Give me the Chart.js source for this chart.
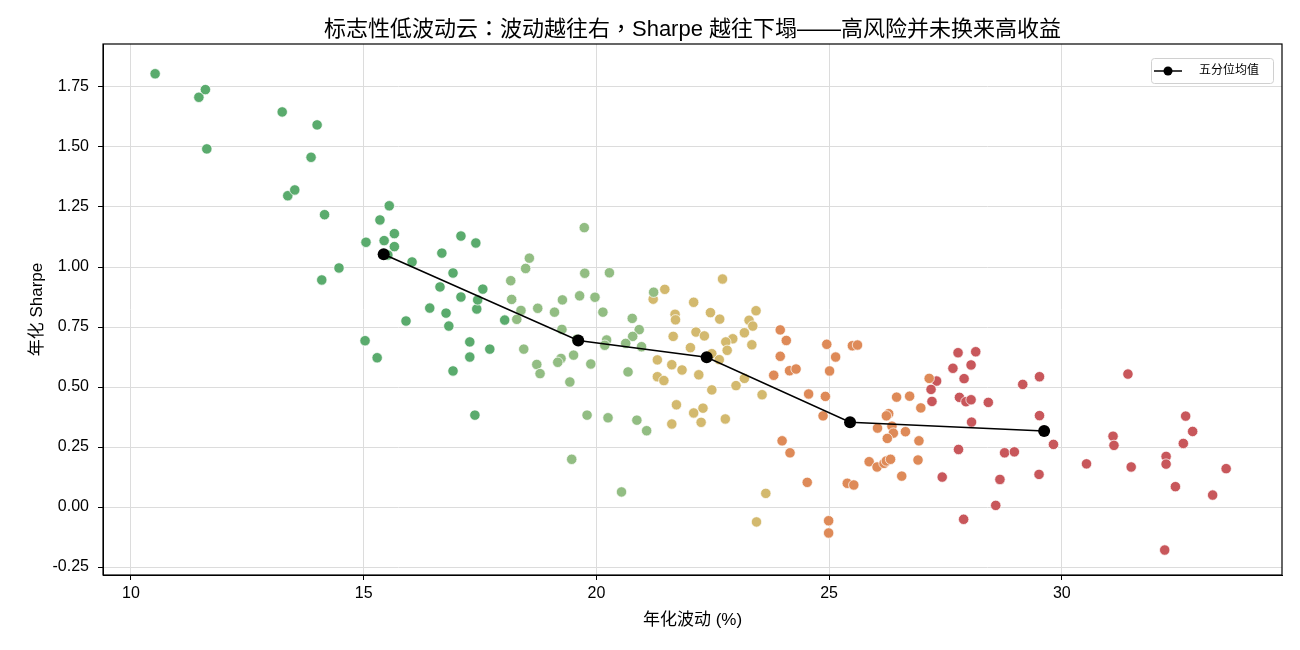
<!DOCTYPE html>
<html>
<head>
<meta charset="utf-8">
<script src="https://cdn.jsdelivr.net/npm/chart.js@4.4.1/dist/chart.umd.min.js"></script>
<style>
  html, body { margin: 0; padding: 0; background: #fff; }
  #wrap { width: 1300px; height: 650px; }
</style>
</head>
<body>
<div id="wrap"><canvas id="c" width="1300" height="650"></canvas></div>
<script>
// 五分位分组：年化波动 (%) 与 年化 Sharpe
const q1Vol = [10.52, 11.46, 11.60, 11.63, 13.25, 14.00, 13.87, 13.37, 13.52, 14.16, 14.10, 14.47, 15.03, 15.29, 15.05, 15.35, 15.44, 15.55, 15.66, 15.66, 15.52, 16.04, 15.91, 16.42, 16.68, 16.64, 16.77, 16.92, 16.83, 16.92, 17.09, 17.09, 17.28, 17.28, 17.41, 17.43, 17.45, 17.56, 17.39, 17.71, 18.03];
const q1Sharpe = [1.805, 1.707, 1.739, 1.492, 1.646, 1.592, 1.457, 1.297, 1.321, 1.218, 0.946, 0.996, 0.693, 0.622, 1.103, 1.196, 1.110, 1.255, 1.139, 1.085, 1.050, 1.021, 0.775, 0.829, 1.058, 0.917, 0.808, 0.975, 0.754, 0.567, 1.129, 0.875, 0.688, 0.625, 1.100, 0.825, 0.863, 0.908, 0.383, 0.658, 0.779];

const q2Vol = [19.74, 18.56, 18.48, 19.75, 20.28, 18.16, 18.18, 19.27, 19.64, 19.97, 18.74, 19.10, 18.38, 18.29, 20.14, 20.77, 20.92, 20.78, 21.23, 19.26, 19.58, 20.22, 20.18, 20.63, 20.97, 18.44, 19.24, 19.17, 19.51, 18.72, 18.79, 19.88, 20.68, 19.43, 19.80, 20.25, 20.87, 21.08, 19.47, 20.54];
const q2Sharpe = [1.164, 1.037, 0.994, 0.974, 0.976, 0.943, 0.865, 0.863, 0.880, 0.874, 0.828, 0.812, 0.819, 0.782, 0.812, 0.786, 0.739, 0.711, 0.895, 0.740, 0.699, 0.696, 0.674, 0.682, 0.668, 0.658, 0.619, 0.603, 0.633, 0.594, 0.556, 0.596, 0.563, 0.521, 0.383, 0.372, 0.362, 0.318, 0.199, 0.063];

const q3Vol = [21.47, 21.22, 21.69, 21.70, 21.65, 21.31, 21.62, 21.84, 21.31, 21.45, 21.72, 21.62, 22.71, 22.09, 22.45, 22.65, 23.43, 23.28, 23.36, 22.14, 22.32, 22.93, 22.78, 23.18, 23.34, 22.02, 22.81, 22.48, 22.64, 22.20, 23.18, 23.00, 22.48, 23.56, 22.29, 22.09, 22.77, 22.25, 23.64, 23.44];
const q3Sharpe = [0.907, 0.866, 0.803, 0.780, 0.711, 0.613, 0.593, 0.571, 0.543, 0.527, 0.426, 0.346, 0.950, 0.853, 0.810, 0.783, 0.818, 0.778, 0.754, 0.729, 0.713, 0.701, 0.688, 0.726, 0.676, 0.664, 0.653, 0.639, 0.614, 0.551, 0.536, 0.506, 0.488, 0.468, 0.412, 0.392, 0.367, 0.353, 0.057, -0.062];

const q4Vol = [23.95, 24.08, 23.95, 24.15, 24.29, 23.81, 24.95, 25.14, 25.01, 25.50, 25.61, 24.56, 24.92, 24.87, 27.15, 26.45, 26.73, 26.97, 26.28, 26.23, 26.04, 26.35, 26.38, 26.64, 26.25, 26.93, 23.99, 24.16, 25.86, 26.03, 26.18, 26.23, 26.32, 26.91, 26.56, 24.53, 25.39, 25.53, 24.99, 24.99];
const q4Sharpe = [0.738, 0.694, 0.628, 0.568, 0.575, 0.549, 0.678, 0.625, 0.567, 0.672, 0.675, 0.471, 0.461, 0.380, 0.536, 0.458, 0.462, 0.413, 0.389, 0.380, 0.329, 0.337, 0.308, 0.314, 0.286, 0.276, 0.276, 0.226, 0.189, 0.167, 0.182, 0.192, 0.199, 0.196, 0.129, 0.103, 0.099, 0.092, -0.057, -0.108];

const q5Vol = [27.77, 28.15, 28.05, 27.66, 27.90, 27.31, 27.19, 27.21, 27.80, 27.94, 28.05, 28.06, 27.78, 27.43, 27.89, 29.52, 29.16, 28.42, 29.52, 29.82, 28.77, 28.98, 29.51, 28.67, 28.58, 31.42, 31.10, 31.12, 30.53, 31.49, 32.66, 32.81, 32.61, 32.24, 32.24, 33.53, 32.44, 33.24, 32.21];
const q5Sharpe = [0.643, 0.647, 0.592, 0.578, 0.535, 0.525, 0.490, 0.440, 0.457, 0.439, 0.447, 0.354, 0.240, 0.125, -0.051, 0.543, 0.511, 0.436, 0.381, 0.261, 0.226, 0.230, 0.136, 0.115, 0.007, 0.554, 0.295, 0.257, 0.180, 0.167, 0.379, 0.315, 0.265, 0.211, 0.179, 0.160, 0.085, 0.050, -0.179];

// 五分位均值
const meanVol = [15.43, 19.61, 22.37, 25.45, 29.62];
const meanSharpe = [1.053, 0.694, 0.624, 0.353, 0.317];

const groupColors = ['#5aab6d', '#92bd83', '#d3b96e', '#de8a58', '#c8575b'];

const FONT = "'Liberation Sans', Arial, 'Noto Sans CJK SC', sans-serif";
const TITLE_FONT = "'Liberation Sans', Arial, 'Noto Sans CJK TC', sans-serif";
const PLOT = { left: 103, right: 1282, top: 44, bottom: 575 };
const PAD_LEFT = 23, PAD_BOTTOM = 15;

function zip(xs, ys) {
    return xs.map((x, i) => ({ x: x, y: ys[i] }));
}

const groups = [[q1Vol, q1Sharpe], [q2Vol, q2Sharpe], [q3Vol, q3Sharpe], [q4Vol, q4Sharpe], [q5Vol, q5Sharpe]];
const scatterSets = groups.map((g, i) => ({
    type: 'scatter',
    label: 'Q' + (i + 1),
    data: zip(g[0], g[1]),
    backgroundColor: groupColors[i],
    borderColor: 'rgba(255,255,255,0.9)',
    borderWidth: 0.8,
    pointRadius: 5.2,
    order: 2
}));

// 框线 + 图例（画在绘图区内右上角）
const framePlugin = {
    id: 'frame',
    afterDraw(chart) {
        const ctx = chart.ctx;
        const a = chart.chartArea;
        ctx.save();
        ctx.strokeStyle = '#000';
        ctx.lineWidth = 1.2;
        ctx.strokeRect(a.left, a.top, a.right - a.left, a.bottom - a.top);

        // legend
        const bx = 1151, by = 58, bw = 122, bh = 25;
        ctx.fillStyle = 'rgba(255,255,255,0.85)';
        ctx.strokeStyle = '#d0d0d0';
        ctx.lineWidth = 1;
        ctx.beginPath();
        ctx.roundRect(bx + 0.5, by + 0.5, bw, bh, 3);
        ctx.fill();
        ctx.stroke();
        const cy = by + bh / 2 + 0.5;
        ctx.strokeStyle = '#000';
        ctx.lineWidth = 1.5;
        ctx.beginPath();
        ctx.moveTo(bx + 3, cy);
        ctx.lineTo(bx + 31, cy);
        ctx.stroke();
        ctx.fillStyle = '#000';
        ctx.beginPath();
        ctx.arc(bx + 17, cy, 4.5, 0, Math.PI * 2);
        ctx.fill();
        ctx.font = '12px ' + FONT;
        ctx.textBaseline = 'middle';
        ctx.fillText('五分位均值', bx + 48, cy);
        ctx.restore();
    }
};

new Chart(document.getElementById('c'), {
    data: {
        datasets: [{
            type: 'line',
            label: '五分位均值',
            data: zip(meanVol, meanSharpe),
            borderColor: '#000',
            backgroundColor: '#000',
            borderWidth: 1.6,
            pointRadius: 6,
            pointBorderWidth: 0,
            tension: 0,
            order: 1
        }].concat(scatterSets)
    },
    options: {
        responsive: false,
        animation: false,
        layout: { padding: { left: PAD_LEFT, right: 1300 - PLOT.right, top: 0, bottom: PAD_BOTTOM } },
        plugins: {
            legend: { display: false },
            tooltip: { enabled: false },
            title: {
                display: true,
                fullSize: false,
                text: '标志性低波动云：波动越往右，Sharpe 越往下塌——高风险并未换来高收益',
                color: '#000',
                font: { family: TITLE_FONT, size: 22, weight: 'normal' },
                padding: { top: 17, bottom: 0.6 }
            }
        },
        scales: {
            x: {
                type: 'linear',
                min: 9.4,
                max: 34.73,
                afterFit(scale) { scale.height = 650 - PAD_BOTTOM - PLOT.bottom; },
                ticks: {
                    stepSize: 5,
                    includeBounds: false,
                    color: '#000',
                    padding: 4,
                    font: { family: FONT, size: 16 },
                    callback: v => String(v)
                },
                grid: { color: '#dcdcdc', tickColor: '#000', tickLength: 5, lineWidth: 1 },
                border: { color: '#000', width: 1 },
                title: { display: true, text: '年化波动 (%)', color: '#000', font: { family: FONT, size: 17 } }
            },
            y: {
                type: 'linear',
                min: -0.283,
                max: 1.929,
                afterFit(scale) { scale.width = PLOT.left - PAD_LEFT; },
                ticks: {
                    stepSize: 0.25,
                    includeBounds: false,
                    color: '#000',
                    padding: 9,
                    font: { family: FONT, size: 16 },
                    callback: v => v.toFixed(2)
                },
                grid: { color: '#dcdcdc', tickColor: '#000', tickLength: 5, lineWidth: 1 },
                border: { color: '#000', width: 1 },
                title: { display: true, text: '年化 Sharpe', color: '#000', font: { family: FONT, size: 17 } }
            }
        }
    },
    plugins: [framePlugin]
});
</script>
</body>
</html>
